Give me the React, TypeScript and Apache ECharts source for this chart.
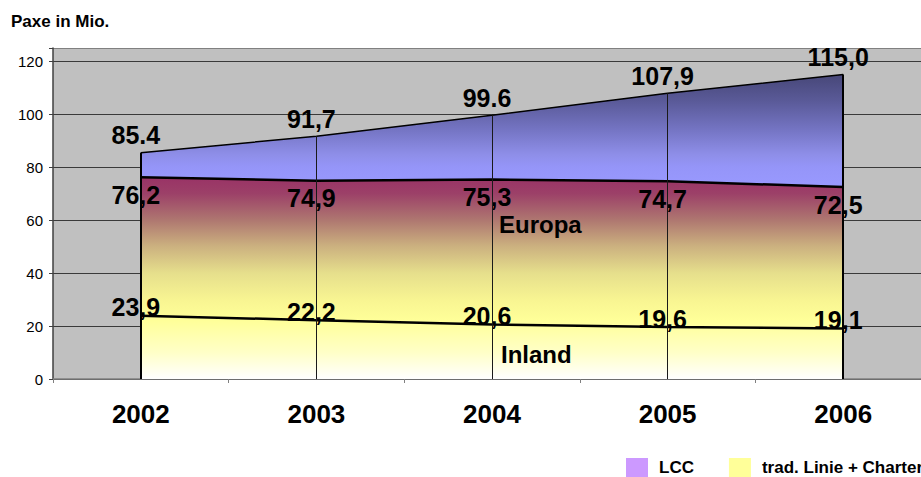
import { useEffect, useRef } from "react";
import * as echarts from "echarts";

// Passengers (millions) per year
const years = ["2002", "2003", "2004", "2005", "2006"];
const inland = [23.9, 22.2, 20.6, 19.6, 19.1];
// Inland + Europa (traditional scheduled + charter)
const tradTotal = [76.2, 74.9, 75.3, 74.7, 72.5];
// Overall total including low-cost carriers
const paxTotal = [85.4, 91.7, 99.6, 107.9, 115.0];
const totalDecimalMarks = [".", ",", ".", ",", ","];
const yTickValues = [0, 20, 40, 60, 80, 100, 120];

const FONT = "'Liberation Sans', Arial, Helvetica, sans-serif";

const fmt = (v: number, sep = ",") => v.toFixed(1).replace(".", sep);

export default function App() {
  const ref = useRef<HTMLDivElement>(null);

  useEffect(() => {
    if (!ref.current) return;
    const chart = echarts.init(ref.current, undefined, { renderer: "svg" });

    const lcc = paxTotal.map((t, i) => +(t - tradTotal[i]).toFixed(1));

    const tradGradient = new echarts.graphic.LinearGradient(0, 0, 0, 1, [
      { offset: 0, color: "#993366" },
      { offset: 0.08, color: "#9c4068" },
      { offset: 0.21, color: "#ae7670" },
      { offset: 0.34, color: "#cbb07f" },
      { offset: 0.475, color: "#e6df8c" },
      { offset: 0.61, color: "#f8f592" },
      { offset: 0.71, color: "#ffff99" },
      { offset: 0.87, color: "#ffffc8" },
      { offset: 1, color: "#ffffff" },
    ]);
    const lccGradient = new echarts.graphic.LinearGradient(0, 0, 0, 1, [
      { offset: 0, color: "#474778" },
      { offset: 0.235, color: "#5a5a98" },
      { offset: 0.47, color: "#7272c0" },
      { offset: 0.71, color: "#8e8ee8" },
      { offset: 0.82, color: "#9595f8" },
      { offset: 1, color: "#9999ff" },
    ]);

    // the last split line (at the axis max) doubles as the grey top frame
    const splitColors = yTickValues.map(() => "#3a3a3a").concat(["#808080"]);

    const dropLines = years.map((y, i) => {
      const edge = i === 0 || i === years.length - 1;
      return [
        {
          coord: [y, 0],
          lineStyle: { color: edge ? "#000" : "#1a1a1a", width: edge ? 2 : 1, type: "solid" },
        },
        { coord: [y, paxTotal[i]] },
      ];
    });

    const dataLabel = {
      show: true,
      fontFamily: FONT,
      fontSize: 25,
      fontWeight: "bold",
      color: "#000",
    };

    chart.setOption({
      animation: false,
      title: {
        text: "Paxe in Mio.",
        left: 11,
        top: 13,
        padding: 0,
        textStyle: { fontFamily: FONT, fontSize: 17, fontWeight: "bold", color: "#000" },
      },
      legend: {
        left: 626,
        top: 458,
        padding: 0,
        itemWidth: 22,
        itemHeight: 19,
        itemGap: 35,
        icon: "rect",
        selectedMode: false,
        data: [
          { name: "LCC", itemStyle: { color: "#cc99ff", borderWidth: 0 } },
          { name: "trad. Linie + Charter", itemStyle: { color: "#ffff99", borderWidth: 0 } },
        ],
        textStyle: {
          fontFamily: FONT,
          fontSize: 17,
          fontWeight: "bold",
          color: "#000",
          padding: [0, 0, 0, 6],
        },
      },
      grid: {
        left: 53,
        top: 48,
        bottom: 98,
        right: 0,
        show: true,
        backgroundColor: "#c0c0c0",
        borderWidth: 0,
      },
      xAxis: {
        type: "category",
        data: years,
        boundaryGap: true,
        axisLine: { show: true, lineStyle: { color: "#808080", width: 1.5 } },
        axisTick: { show: true, length: 4, lineStyle: { color: "#808080" } },
        axisLabel: {
          margin: 22,
          fontFamily: FONT,
          fontSize: 26,
          fontWeight: "bold",
          color: "#000",
        },
        splitLine: { show: false },
      },
      yAxis: {
        type: "value",
        min: 0,
        max: 125,
        interval: 20,
        axisLine: { show: true, lineStyle: { color: "#404040", width: 1.5 } },
        axisTick: { show: true, length: 4, lineStyle: { color: "#404040" } },
        axisLabel: {
          margin: 10,
          fontFamily: FONT,
          fontSize: 15,
          color: "#000",
          formatter: (v: number) => (yTickValues.includes(v) ? String(v) : ""),
        },
        splitLine: { show: true, lineStyle: { color: splitColors, width: 1 } },
      },
      series: [
        {
          name: "trad. Linie + Charter",
          type: "line",
          stack: "pax",
          z: 3,
          data: tradTotal,
          symbol: "circle",
          symbolSize: 0,
          itemStyle: { color: "#ffff99" },
          lineStyle: { color: "#000", width: 2.5 },
          areaStyle: { color: tradGradient, opacity: 1 },
          emphasis: { disabled: true },
          label: {
            ...dataLabel,
            position: "bottom",
            distance: 5,
            offset: [-5, 0],
            formatter: (p: any) => fmt(tradTotal[p.dataIndex]),
          },
        },
        {
          name: "LCC",
          type: "line",
          stack: "pax",
          z: 2,
          data: lcc,
          symbol: "circle",
          symbolSize: 0,
          itemStyle: { color: "#cc99ff" },
          lineStyle: { color: "#000", width: 1.5 },
          areaStyle: { color: lccGradient, opacity: 1 },
          emphasis: { disabled: true },
          label: {
            ...dataLabel,
            position: "top",
            distance: 7,
            offset: [-5, 2],
            formatter: (p: any) => fmt(paxTotal[p.dataIndex], totalDecimalMarks[p.dataIndex]),
          },
        },
        {
          name: "Inland",
          type: "line",
          z: 4,
          data: inland,
          symbol: "circle",
          symbolSize: 0,
          itemStyle: { color: "#000" },
          lineStyle: { color: "#000", width: 2.5 },
          emphasis: { disabled: true },
          label: {
            ...dataLabel,
            position: "top",
            distance: 5,
            offset: [-5, 9],
            formatter: (p: any) => fmt(inland[p.dataIndex]),
          },
          markLine: {
            silent: true,
            symbol: ["none", "none"],
            label: { show: false },
            data: dropLines,
          },
        },
      ],
      graphic: [
        {
          type: "text",
          left: 499,
          top: 212,
          style: {
            text: "Europa",
            fontFamily: FONT,
            fontSize: 24,
            fontWeight: "bold",
            fill: "#000",
          },
          z: 10,
        },
        {
          type: "text",
          left: 501,
          top: 342,
          style: {
            text: "Inland",
            fontFamily: FONT,
            fontSize: 24,
            fontWeight: "bold",
            fill: "#000",
          },
          z: 10,
        },
      ],
    });

    return () => chart.dispose();
  }, []);

  return (
    <div
      style={{
        position: "fixed",
        left: 0,
        top: 0,
        width: 921,
        height: 477,
        overflow: "hidden",
        background: "#fff",
      }}
    >
      <div ref={ref} style={{ width: 931, height: 477 }} />
    </div>
  );
}
